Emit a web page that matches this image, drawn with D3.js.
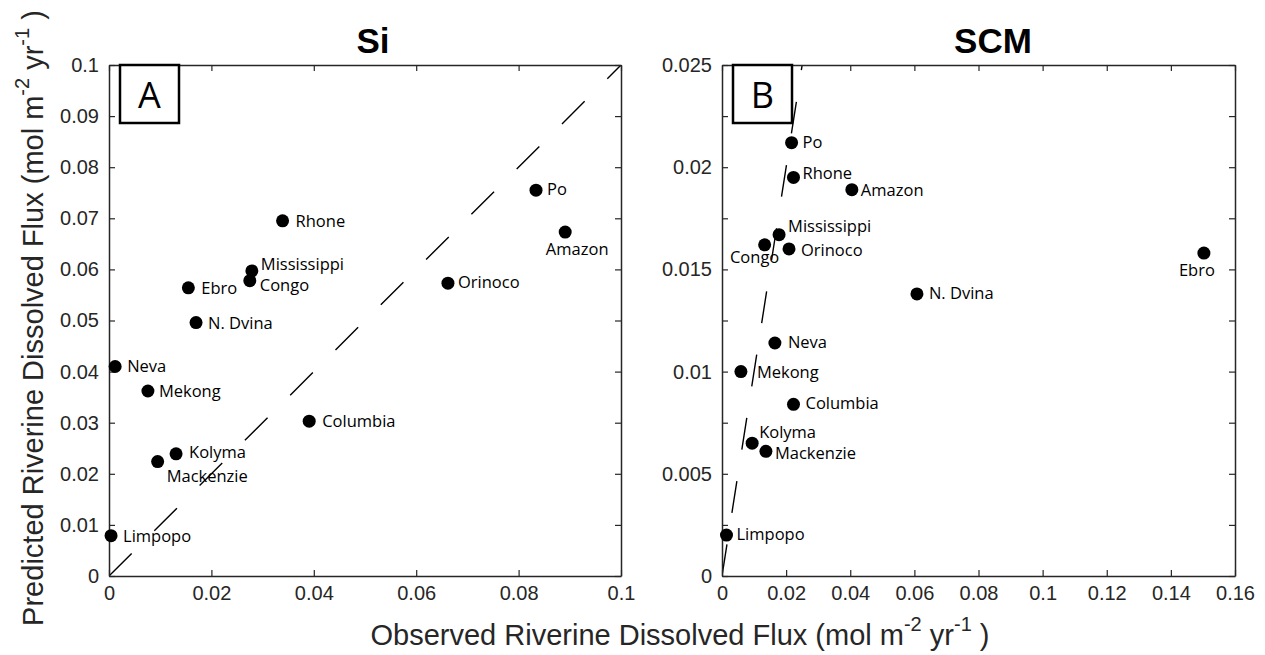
<!DOCTYPE html>
<html>
<head>
<meta charset="utf-8">
<script src="https://cdn.jsdelivr.net/npm/d3@7"></script>
<style>
  body { margin: 0; background: #fff; }
  svg { display: block; }
</style>
</head>
<body>
<script>
// river names, same order for every series
var rivers = ["Limpopo", "Neva", "Mekong", "Mackenzie", "Kolyma", "Ebro", "N. Dvina",
              "Congo", "Mississippi", "Rhone", "Columbia", "Orinoco", "Po", "Amazon"];

// panel A (Si)
var siObserved  = [0.0004, 0.0012, 0.0076, 0.0095, 0.0131, 0.0155, 0.0170,
                   0.0275, 0.0279, 0.0339, 0.0391, 0.0662, 0.0834, 0.0891];
var siPredicted = [0.0079, 0.0410, 0.0362, 0.0224, 0.0239, 0.0564, 0.0496,
                   0.0578, 0.0597, 0.0695, 0.0303, 0.0573, 0.0755, 0.0673];

// panel B (SCM)
var scmObserved  = [0.0014, 0.0165, 0.0059, 0.0137, 0.0094, 0.1503, 0.0608,
                    0.0133, 0.0178, 0.0223, 0.0223, 0.0209, 0.0217, 0.0405];
var scmPredicted = [0.0020, 0.0114, 0.0100, 0.0061, 0.0065, 0.0158, 0.0138,
                    0.0162, 0.0167, 0.0195, 0.0084, 0.0160, 0.0212, 0.0189];

var siXTicks = [0, 0.02, 0.04, 0.06, 0.08, 0.1];
var siYTicks = [0, 0.01, 0.02, 0.03, 0.04, 0.05, 0.06, 0.07, 0.08, 0.09, 0.1];
var scmXTicks = [0, 0.02, 0.04, 0.06, 0.08, 0.1, 0.12, 0.14, 0.16];
var scmYTicks = [0, 0.0025, 0.005, 0.0075, 0.01, 0.0125, 0.015, 0.0175, 0.02, 0.0225, 0.025];
var scmYLabels = ["0", "", "0.005", "", "0.01", "", "0.015", "", "0.02", "", "0.025"];

// where each river name sits next to its dot: [dx, dy, anchor]
var siPlace = {
    "Limpopo": [12, 6, "start"], "Neva": [12, 6, "start"], "Mekong": [11, 6, "start"],
    "Mackenzie": [9, 20, "start"], "Kolyma": [13, 4, "start"], "Ebro": [13, 6, "start"],
    "N. Dvina": [12, 6, "start"], "Congo": [10, 10, "start"], "Mississippi": [9, -1, "start"],
    "Rhone": [13, 6, "start"], "Columbia": [13, 6, "start"], "Orinoco": [10, 5, "start"],
    "Po": [11, 5, "start"], "Amazon": [12, 23, "middle"]
};
var scmPlace = {
    "Limpopo": [10, 5, "start"], "Neva": [13, 5, "start"], "Mekong": [16, 6, "start"],
    "Mackenzie": [9, 8, "start"], "Kolyma": [7, -5, "start"], "Ebro": [-7, 23, "middle"],
    "N. Dvina": [12, 5, "start"], "Congo": [-10, 18, "middle"], "Mississippi": [9, -3, "start"],
    "Rhone": [9, 2, "start"], "Columbia": [12, 5, "start"], "Orinoco": [12, 7, "start"],
    "Po": [11, 5, "start"], "Amazon": [9, 6, "start"]
};

var W = 1265, H = 655;
var axisColor = "#262626";
var tickFont = "'Liberation Sans', Arial, Helvetica, sans-serif";
var labelFont = "'Open Sans', 'Noto Sans', sans-serif";

var svg = d3.select("body").append("svg")
    .attr("width", W)
    .attr("height", H);

function drawPanel(cfg) {
    var x = d3.scaleLinear().domain(cfg.xDomain).range([cfg.left, cfg.right]);
    var y = d3.scaleLinear().domain(cfg.yDomain).range([cfg.bottom, cfg.top]);
    var g = svg.append("g");

    var clipId = "clip" + cfg.letter;
    svg.append("clipPath").attr("id", clipId)
        .append("rect")
        .attr("x", cfg.left).attr("y", cfg.top)
        .attr("width", cfg.right - cfg.left).attr("height", cfg.bottom - cfg.top);

    // 1:1 line
    var lim = Math.min(cfg.xDomain[1], cfg.yDomain[1]);
    g.append("line")
        .attr("clip-path", "url(#" + clipId + ")")
        .attr("x1", x(0)).attr("y1", y(0))
        .attr("x2", x(lim)).attr("y2", y(lim))
        .style("stroke", "#000")
        .style("stroke-width", 1.4)
        .style("stroke-dasharray", "32,32");

    // axes, MATLAB style box with inward ticks
    function styleAxis(sel) {
        sel.selectAll("path.domain").style("stroke", axisColor).style("stroke-width", 1.5);
        sel.selectAll(".tick line").style("stroke", axisColor).style("stroke-width", 1.2);
        sel.selectAll(".tick text")
            .style("font-family", tickFont)
            .style("font-size", "20px")
            .style("fill", axisColor);
    }
    var fmt = d3.format("~g");

    g.append("g")
        .attr("transform", "translate(0," + cfg.bottom + ")")
        .call(d3.axisBottom(x).tickValues(cfg.xTicks).tickSize(-6).tickSizeOuter(0)
            .tickPadding(10).tickFormat(fmt))
        .call(styleAxis);
    g.append("g")
        .attr("transform", "translate(0," + cfg.top + ")")
        .call(d3.axisTop(x).tickValues(cfg.xTicks).tickSize(-6).tickSizeOuter(0)
            .tickFormat(""))
        .call(styleAxis);
    g.append("g")
        .attr("transform", "translate(" + cfg.left + ",0)")
        .call(d3.axisLeft(y).tickValues(cfg.yTicks).tickSize(-6).tickSizeOuter(0)
            .tickPadding(10).tickFormat(function(d, i) {
                return cfg.yLabels ? cfg.yLabels[i] : fmt(d);
            }))
        .call(styleAxis);
    g.append("g")
        .attr("transform", "translate(" + cfg.right + ",0)")
        .call(d3.axisRight(y).tickValues(cfg.yTicks).tickSize(-6).tickSizeOuter(0)
            .tickFormat(""))
        .call(styleAxis);

    var pts = rivers.map(function(name, i) {
        return {name: name, obs: cfg.obs[i], pred: cfg.pred[i]};
    });

    g.selectAll("circle.pt")
        .data(pts)
        .enter()
        .append("circle")
        .attr("class", "pt")
        .attr("cx", function(d) { return x(d.obs); })
        .attr("cy", function(d) { return y(d.pred); })
        .attr("r", 6.5)
        .style("fill", "#000");

    g.selectAll("text.name")
        .data(pts)
        .enter()
        .append("text")
        .attr("class", "name")
        .attr("x", function(d) { return x(d.obs) + cfg.place[d.name][0]; })
        .attr("y", function(d) { return y(d.pred) + cfg.place[d.name][1]; })
        .attr("text-anchor", function(d) { return cfg.place[d.name][2]; })
        .style("font-family", labelFont)
        .style("font-size", "16.5px")
        .style("fill", "#000")
        .text(function(d) { return d.name; });

    // title
    g.append("text")
        .attr("x", cfg.titleX)
        .attr("y", 53)
        .attr("text-anchor", "middle")
        .style("font-family", tickFont)
        .style("font-weight", "bold")
        .style("font-size", "35px")
        .style("fill", "#000")
        .text(cfg.title);

    // panel letter box
    g.append("rect")
        .attr("x", cfg.left + 11).attr("y", cfg.top)
        .attr("width", 59).attr("height", 58)
        .style("fill", "#fff")
        .style("stroke", "#000")
        .style("stroke-width", 2.5);
    g.append("text")
        .attr("x", cfg.left + 40.5)
        .attr("y", cfg.top + 43)
        .attr("text-anchor", "middle")
        .style("font-family", labelFont)
        .style("font-size", "36px")
        .style("fill", "#000")
        .text(cfg.letter);
}

drawPanel({
    letter: "A", title: "Si", titleX: 373,
    left: 109, right: 621, top: 65, bottom: 576,
    xDomain: [0, 0.1], yDomain: [0, 0.1],
    xTicks: siXTicks, yTicks: siYTicks,
    obs: siObserved, pred: siPredicted, place: siPlace
});

drawPanel({
    letter: "B", title: "SCM", titleX: 993,
    left: 722, right: 1235, top: 65, bottom: 576,
    xDomain: [0, 0.16], yDomain: [0, 0.025],
    xTicks: scmXTicks, yTicks: scmYTicks, yLabels: scmYLabels,
    obs: scmObserved, pred: scmPredicted, place: scmPlace
});

// shared axis labels
function unitLabel(sel, lead) {
    sel.append("tspan").text(lead + " (mol m");
    sel.append("tspan").attr("dy", -14).style("font-size", "20px").text("-2");
    sel.append("tspan").attr("dy", 14).text("  yr");
    sel.append("tspan").attr("dy", -14).style("font-size", "20px").text("-1");
    sel.append("tspan").attr("dy", 14).text(" )");
}

svg.append("text")
    .attr("x", 680)
    .attr("y", 645)
    .attr("text-anchor", "middle")
    .style("font-family", tickFont)
    .style("font-size", "29px")
    .style("fill", axisColor)
    .call(unitLabel, "Observed Riverine Dissolved Flux");

svg.append("text")
    .attr("transform", "translate(43,318) rotate(-90)")
    .attr("text-anchor", "middle")
    .style("font-family", tickFont)
    .style("font-size", "29px")
    .style("fill", axisColor)
    .call(unitLabel, "Predicted Riverine Dissolved Flux");
</script>
</body>
</html>
